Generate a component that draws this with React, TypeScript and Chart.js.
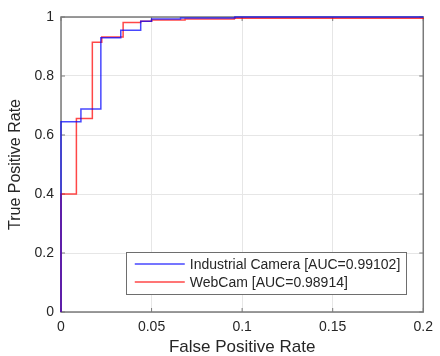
import React, { useEffect, useRef } from "react";
import { Chart, registerables } from "chart.js";

Chart.register(...registerables);

const industrialFPR = [0, 0, 0.011, 0.022, 0.033, 0.044, 0.05, 0.066, 0.096, 0.2];
const industrialTPR = [0, 0.645, 0.688, 0.93, 0.955, 0.986, 0.993, 0.997, 1.0, 1.0];
const webcamFPR = [0, 0, 0.0085, 0.0173, 0.0225, 0.0343, 0.044, 0.05, 0.0685, 0.0957, 0.2];
const webcamTPR = [0, 0.4, 0.656, 0.914, 0.932, 0.981, 0.986, 0.99, 0.993, 0.996, 0.997];
const seriesLabels = ["Industrial Camera [AUC=0.99102]", "WebCam [AUC=0.98914]"];
const xTitle = "False Positive Rate";
const yTitle = "True Positive Rate";

const FONT = "'Liberation Sans', Arial, sans-serif";
const AXIS_COLOR = "#7a7a7a";
const TEXT_COLOR = "#262626";
const BLUE = "rgba(0,0,255,0.72)";
const RED = "rgba(255,0,0,0.72)";

const toPoints = (xs: number[], ys: number[]) => xs.map((x, i) => ({ x, y: ys[i] }));
const fmt = (v: number) => String(Math.round(v * 100) / 100);

const boxPlugin = {
  id: "matlabBox",
  beforeDatasetsDraw(chart: any) {
    const { ctx, chartArea: a, scales } = chart;
    ctx.save();
    ctx.strokeStyle = AXIS_COLOR;
    ctx.lineWidth = 1.5;
    ctx.strokeRect(a.left, a.top, a.right - a.left, a.bottom - a.top);
    ctx.lineWidth = 1;
    const tl = 4;
    scales.x.ticks.forEach((t: any) => {
      const px = scales.x.getPixelForValue(t.value);
      ctx.beginPath();
      ctx.moveTo(px, a.bottom);
      ctx.lineTo(px, a.bottom - tl);
      ctx.moveTo(px, a.top);
      ctx.lineTo(px, a.top + tl);
      ctx.stroke();
    });
    scales.y.ticks.forEach((t: any) => {
      const py = scales.y.getPixelForValue(t.value);
      ctx.beginPath();
      ctx.moveTo(a.left, py);
      ctx.lineTo(a.left + tl, py);
      ctx.moveTo(a.right, py);
      ctx.lineTo(a.right - tl, py);
      ctx.stroke();
    });
    ctx.restore();
  },
  afterDraw(chart: any) {
    const { ctx, chartArea: a } = chart;
    ctx.save();
    ctx.font = `14px ${FONT}`;
    const tw = Math.max(...seriesLabels.map((s) => ctx.measureText(s).width));
    const right = a.right - 17;
    const bottom = a.bottom - 18;
    const w = 9 + 50 + 5 + tw + 6;
    const h = 42;
    const left = right - w;
    const top = bottom - h;
    ctx.fillStyle = "#ffffff";
    ctx.fillRect(left, top, w, h);
    ctx.strokeStyle = "#6e6e6e";
    ctx.lineWidth = 1;
    ctx.strokeRect(Math.round(left) + 0.5, Math.round(top) + 0.5, Math.round(w), Math.round(h));
    const colors = [BLUE, RED];
    seriesLabels.forEach((s, i) => {
      const y = top + 12 + i * 18;
      ctx.strokeStyle = colors[i];
      ctx.lineWidth = 1.5;
      ctx.beginPath();
      ctx.moveTo(left + 9, y);
      ctx.lineTo(left + 59, y);
      ctx.stroke();
      ctx.fillStyle = TEXT_COLOR;
      ctx.textBaseline = "middle";
      ctx.textAlign = "left";
      ctx.fillText(s, left + 64, y + 1);
    });
    ctx.restore();
  },
};

export default function App() {
  const ref = useRef<HTMLCanvasElement | null>(null);
  useEffect(() => {
    if (!ref.current) return;
    const chart = new Chart(ref.current, {
      type: "line",
      data: {
        datasets: [
          {
            label: seriesLabels[0],
            data: toPoints(industrialFPR, industrialTPR),
            borderColor: BLUE,
            borderWidth: 1.5,
            pointRadius: 0,
            stepped: "before",
            fill: false,
          },
          {
            label: seriesLabels[1],
            data: toPoints(webcamFPR, webcamTPR),
            borderColor: RED,
            borderWidth: 1.5,
            pointRadius: 0,
            stepped: "before",
            fill: false,
          },
        ],
      },
      options: {
        animation: false,
        responsive: false,
        clip: false as any,
        layout: { padding: { top: 17, right: 12, left: 0, bottom: 0 } },
        plugins: { legend: { display: false }, tooltip: { enabled: false } },
        scales: {
          x: {
            type: "linear",
            min: 0,
            max: 0.2,
            afterFit: (s: any) => {
              s.height = 44;
            },
            border: { display: false },
            grid: { color: "#e6e6e6", drawTicks: false, lineWidth: 1 },
            ticks: {
              stepSize: 0.05,
              padding: 7,
              color: TEXT_COLOR,
              font: { family: FONT, size: 14 },
              maxRotation: 0,
              callback: (v: any) => fmt(Number(v)),
            },
            title: {
              display: true,
              text: xTitle,
              color: TEXT_COLOR,
              font: { family: FONT, size: 17, lineHeight: 1 },
              padding: { top: 0, bottom: 0 },
            },
          },
          y: {
            type: "linear",
            min: 0,
            max: 1,
            afterFit: (s: any) => {
              s.width = 61;
            },
            border: { display: false },
            grid: { color: "#e6e6e6", drawTicks: false, lineWidth: 1 },
            ticks: {
              stepSize: 0.2,
              padding: 7,
              color: TEXT_COLOR,
              font: { family: FONT, size: 14 },
              callback: (v: any) => fmt(Number(v)),
            },
            title: {
              display: true,
              text: yTitle,
              color: TEXT_COLOR,
              font: { family: FONT, size: 16, lineHeight: 1.2 },
              padding: { top: 6, bottom: 0 },
            },
          },
        },
      },
      plugins: [boxPlugin],
    });
    return () => chart.destroy();
  }, []);
  return (
    <div style={{ position: "fixed", left: 0, top: 0, width: 440, height: 356, background: "#fff" }}>
      <canvas ref={ref} width={440} height={356} style={{ width: 440, height: 356 }} />
    </div>
  );
}
